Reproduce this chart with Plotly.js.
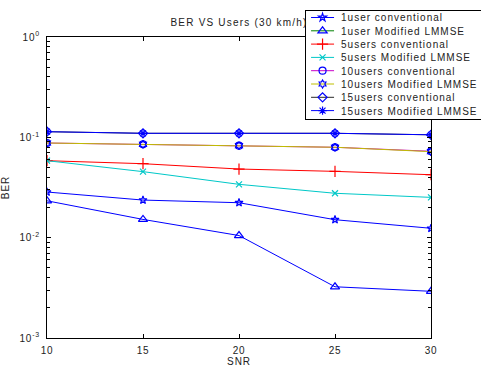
<!DOCTYPE html>
<html>
<head>
<meta charset="utf-8">
<script src="https://cdn.plot.ly/plotly-3.0.1.min.js"></script>
<style>
html,body{margin:0;padding:0;background:#fff;}
#chart{width:481px;height:367px;}
.legendtext{letter-spacing:1px;}
.gtitle{letter-spacing:1.2px;}
.xtitle,.ytitle{letter-spacing:0.9px;}
.xtick text,.ytick text{letter-spacing:0.8px;}
</style>
</head>
<body>
<div id="chart"></div>
<script>
const snr = [10, 15, 20, 25, 30];
const ber1userConv = [0.0285, 0.0237, 0.0223, 0.0151, 0.0124];
const ber1userMod = [0.0233, 0.0152, 0.0105, 0.00324, 0.00292];
const ber5usersConv = [0.0585, 0.0546, 0.0483, 0.0458, 0.0424];
const ber5usersMod = [0.0585, 0.0455, 0.0340, 0.0277, 0.0252];
const ber10usersConv = [0.0878, 0.0852, 0.0826, 0.0796, 0.0726];
const ber10usersMod = [0.0878, 0.0852, 0.0826, 0.0796, 0.0720];
const ber15usersConv = [0.1138, 0.1097, 0.1097, 0.1097, 0.1060];
const ber15usersMod = [0.1138, 0.1097, 0.1097, 0.1097, 0.1060];
const seriesNames = ['1user conventional','1user Modified LMMSE','5users conventional','5users Modified LMMSE',
  '10users conventional','10users Modified LMMSE','15users conventional','15users Modified LMMSE'];
const yTickVals = [0.001, 0.01, 0.1, 1];
const yTickText = ['10<sup>-3</sup>','10<sup>-2</sup>','10<sup>-1</sup>','10<sup>0</sup>'];
const yMinorVals = [0.002,0.003,0.004,0.005,0.006,0.007,0.008,0.009,
  0.02,0.03,0.04,0.05,0.06,0.07,0.08,0.09, 0.2,0.3,0.4,0.5,0.6,0.7,0.8,0.9];
const xTickVals = [10, 15, 20, 25, 30];

const blue = 'rgb(0,0,255)';
function tr(name, y, lineColor, sym, size, mColor, rank, showlegend) {
  return {x: snr, y: y, name: name, type: 'scatter', mode: 'lines+markers',
    line: {color: lineColor, width: 1},
    marker: {symbol: sym, size: size, color: mColor, line: {color: mColor, width: 1.2}},
    legendrank: rank, showlegend: showlegend};
}
const traces = [
  tr(seriesNames[6], ber15usersConv, 'rgb(40,40,40)', 'diamond-open', 7, blue, 7, true),
  tr(seriesNames[7], ber15usersMod, blue, 'asterisk-open', 7, blue, 8, true),
  tr(seriesNames[4], ber10usersConv, 'rgb(200,0,200)', 'circle-open', 7, blue, 5, true),
  tr(seriesNames[5], ber10usersMod, 'rgb(191,191,0)', 'hexagram-open', 6, blue, 6, true),
  tr(seriesNames[2], ber5usersConv, 'rgb(255,0,0)', 'cross-thin-open', 8, 'rgb(255,0,0)', 3, true),
  tr(seriesNames[3], ber5usersMod, 'rgb(0,200,200)', 'x-thin-open', 6, 'rgb(0,200,200)', 4, true),
  tr(seriesNames[0], ber1userConv, blue, 'star-open', 6, blue, 1, true),
  tr(seriesNames[1], ber1userMod, blue, 'triangle-up-open', 8, blue, 2, false),
  {x: [null], y: [null], name: seriesNames[1], type: 'scatter', mode: 'lines+markers',
   line: {color: 'rgb(0,128,0)', width: 1},
   marker: {symbol: 'triangle-up-open', size: 8, color: blue, line: {color: blue, width: 1.2}},
   legendrank: 2, showlegend: true}
];

const font = {family: 'Liberation Sans, Arial, sans-serif', size: 10, color: '#222'};
const layout = {
  width: 481, height: 367,
  margin: {l: 47, r: 50, t: 37, b: 29, pad: 0, autoexpand: false},
  paper_bgcolor: '#fff', plot_bgcolor: '#fff',
  font: font,
  title: {text: 'BER VS Users (30 km/h)', x: 0.5, xref: 'paper', y: 0.94, yanchor: 'middle', font: {family: font.family, size: 10, color: '#222'}},
  xaxis: {range: [10, 30], tickvals: xTickVals, ticks: 'inside', ticklen: 4, tickcolor: '#000',
    showline: true, linecolor: '#000', linewidth: 1, mirror: 'ticks', showgrid: false, zeroline: false,
    ticklabelstandoff: 3,
    title: {text: 'SNR', standoff: 6, font: font}, tickfont: font},
  yaxis: {type: 'log', range: [-3, 0], tickvals: yTickVals, ticktext: yTickText, ticks: 'inside', ticklen: 4,
    tickcolor: '#000', showline: true, linecolor: '#000', linewidth: 1, mirror: 'ticks', showgrid: false,
    zeroline: false, ticklabelstandoff: 4, title: {text: 'BER', standoff: 8, font: font}, tickfont: font,
    minor: {tickvals: yMinorVals, ticks: 'inside', ticklen: 3, tickcolor: '#000', showgrid: false}},
  legend: {x: 0.672, y: 1.0897, xanchor: 'left', yanchor: 'top', bgcolor: '#fff', bordercolor: '#000',
    borderwidth: 1, font: {family: font.family, size: 10, color: '#222'}, tracegroupgap: 0,
    itemwidth: 30, traceorder: 'normal'},
  showlegend: true
};
Plotly.newPlot('chart', traces, layout, {displayModeBar: false, staticPlot: true}).then(function(gd) {
  // compact the legend rows and symbols to match the reference
  const items = gd.querySelectorAll('.legend .traces');
  const step = 13.3;
  items.forEach(function(el, i) {
    const m = /translate\(([-\d.]+)[ ,]+([-\d.]+)\)/.exec(el.getAttribute('transform') || '');
    const x = m ? parseFloat(m[1]) : 0;
    el.setAttribute('transform', 'translate(' + x + ',' + (7.5 + i * step) + ')');
    el.querySelectorAll('.legendlines path').forEach(function(p) { p.setAttribute('d', 'M5,0h23'); });
    el.querySelectorAll('.legendpoints path').forEach(function(p) { p.setAttribute('transform', 'translate(16.5,0)'); });
    el.querySelectorAll('.legendtext').forEach(function(t) {
      t.setAttribute('x', 35);
      t.querySelectorAll('tspan[x]').forEach(function(s) { s.setAttribute('x', 35); });
    });
  });
  const bg = gd.querySelector('.legend .bg');
  if (bg) bg.setAttribute('height', (items.length - 1) * step + 15.5);
});
</script>
</body>
</html>
